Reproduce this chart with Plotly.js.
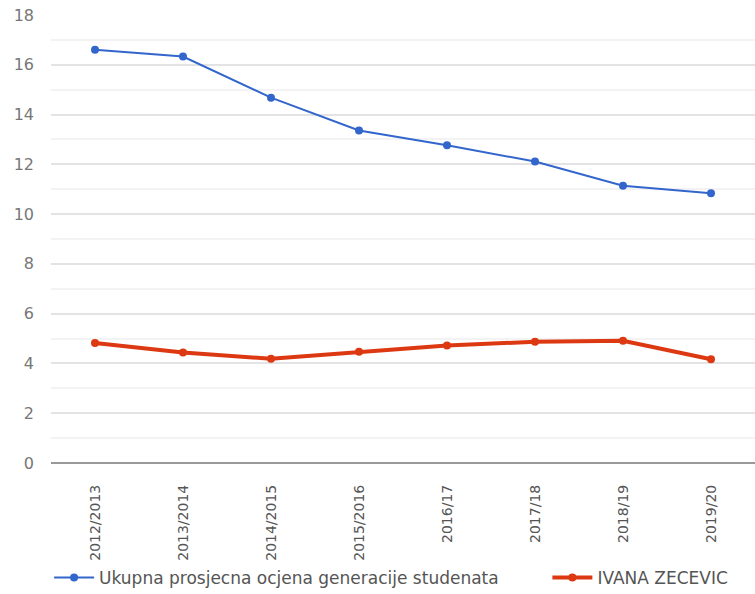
<!DOCTYPE html>
<html>
<head>
<meta charset="utf-8">
<script src="https://cdn.plot.ly/plotly-3.0.1.min.js"></script>
<style>
  html, body { margin: 0; padding: 0; background: #fff; }
  #chart { width: 755px; height: 594px; }
</style>
</head>
<body>
<div id="chart"></div>
<script>
// School years on the x axis
const years = ['2012/2013', '2013/2014', '2014/2015', '2015/2016', '2016/17', '2017/18', '2018/19', '2019/20'];

// Average grade of the whole generation
const generationAvg = [16.6, 16.33, 14.68, 13.36, 12.77, 12.11, 11.14, 10.84];

// Student's own grade
const studentAvg = [4.82, 4.44, 4.19, 4.47, 4.72, 4.87, 4.91, 4.17];

const traceGeneration = {
    x: years,
    y: generationAvg,
    name: 'Ukupna prosjecna ocjena generacije studenata',
    type: 'scatter',
    mode: 'lines+markers',
    line: { color: '#3366cc', width: 2 },
    marker: { color: '#3366cc', size: 8 },
    legend: 'legend'
};

const traceStudent = {
    x: years,
    y: studentAvg,
    name: 'IVANA ZECEVIC',
    type: 'scatter',
    mode: 'lines+markers',
    line: { color: '#dc3912', width: 4 },
    marker: { color: '#dc3912', size: 8 },
    legend: 'legend2'
};

// both legend boxes share the same look, only the x position differs
function legendAt(x) {
    return {
        orientation: 'h',
        xref: 'container',
        yref: 'container',
        x: x,
        xanchor: 'left',
        y: 0.027,
        yanchor: 'middle',
        font: { size: 17, color: '#555' },
        itemwidth: 40
    };
}

const layout = {
    width: 755,
    height: 594,
    margin: { l: 51, r: 0, t: 15, b: 131 },
    paper_bgcolor: '#fff',
    plot_bgcolor: '#fff',
    font: { family: 'DejaVu Sans, Liberation Sans, sans-serif', color: '#555', size: 15 },
    showlegend: true,
    legend: legendAt(0.065),
    legend2: legendAt(0.725),
    xaxis: {
        type: 'category',
        range: [-0.5, 7.5],
        tickangle: -90,
        showgrid: false,
        ticks: '',
        ticklabelstandoff: 18,
        tickfont: { size: 14, color: '#555' },
        showline: false,
        zeroline: false
    },
    yaxis: {
        range: [0, 18],
        dtick: 2,
        tick0: 0,
        showgrid: true,
        gridcolor: '#e3e3e3',
        gridwidth: 2,
        zeroline: true,
        zerolinecolor: '#999',
        zerolinewidth: 2,
        ticks: '',
        ticklabelstandoff: 16,
        tickfont: { size: 16, color: '#777' },
        minor: { dtick: 1, showgrid: true, gridcolor: '#f3f3f3', gridwidth: 2 }
    }
};

Plotly.newPlot('chart', [traceGeneration, traceStudent], layout, { displayModeBar: false });
</script>
</body>
</html>
